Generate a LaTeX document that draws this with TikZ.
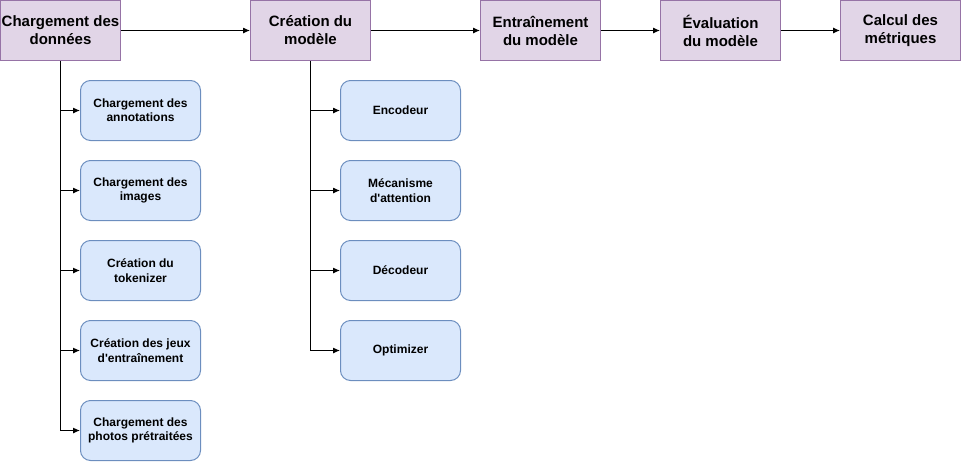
\documentclass[tikz,border=0pt]{standalone}
\usepackage{fontspec}
\setmainfont{Liberation Sans}
\usetikzlibrary{arrows.meta,positioning}
\definecolor{stagefill}{HTML}{E1D5E7}
\definecolor{stageline}{HTML}{9673A6}
\definecolor{taskfill}{HTML}{DAE8FC}
\definecolor{taskline}{HTML}{6C8EBF}

\begin{document}
\begin{tikzpicture}[x=1pt,y=-1pt,>={Latex[length=7pt,width=6pt]},line width=1pt,
 stage/.style={rectangle,draw=stageline,fill=stagefill,minimum width=120pt,minimum height=60pt,
  inner sep=0pt,align=center,font=\bfseries\fontsize{15}{18}\selectfont},
 task/.style={rectangle,rounded corners=10pt,draw=taskline,fill=taskfill,minimum width=120pt,
  minimum height=60pt,inner sep=0pt,align=center,font=\bfseries\fontsize{12}{14.4}\selectfont}]
\useasboundingbox (0,0) rectangle (961,461);
% main stages
\node[stage] (load) at (60.5,30.5){Chargement des\\données};
\node[stage] (model) at (310.5,30.5){Création du\\modèle};
\node[stage] (train) at (540.5,30.5){Entraînement\\du modèle};
\node[stage] (eval) at (720.5,30.5){Évaluation\\du modèle};
\node[stage] (metrics) at (900.5,30.5){Calcul des\\métriques};
\draw[->] (load)--(model);
\draw[->] (model)--(train);
\draw[->] (train)--(eval);
\draw[->] (eval)--(metrics);
% data loading tasks
\node[task] (annot) at (140.5,110.5){Chargement des\\annotations};
\node[task] (images) at (140.5,190.5){Chargement des\\images};
\node[task] (tokenizer) at (140.5,270.5){Création du\\tokenizer};
\node[task] (sets) at (140.5,350.5){Création des jeux\\d\textquotesingle entraînement};
\node[task] (photos) at (140.5,430.5){Chargement des\\photos prétraitées};
\draw (load.south)--(load.south |- photos.west);
\foreach \t in {annot,images,tokenizer,sets,photos}
 \draw[->] (load.south |- \t.west)--(\t.west);
% model tasks
\node[task] (enc) at (400.5,110.5){Encodeur};
\node[task] (attn) at (400.5,190.5){Mécanisme\\d\textquotesingle attention};
\node[task] (dec) at (400.5,270.5){Décodeur};
\node[task] (optim) at (400.5,350.5){Optimizer};
\draw (model.south)--(model.south |- optim.west);
\foreach \t in {enc,attn,dec,optim}
 \draw[->] (model.south |- \t.west)--(\t.west);
\end{tikzpicture}
\end{document}
